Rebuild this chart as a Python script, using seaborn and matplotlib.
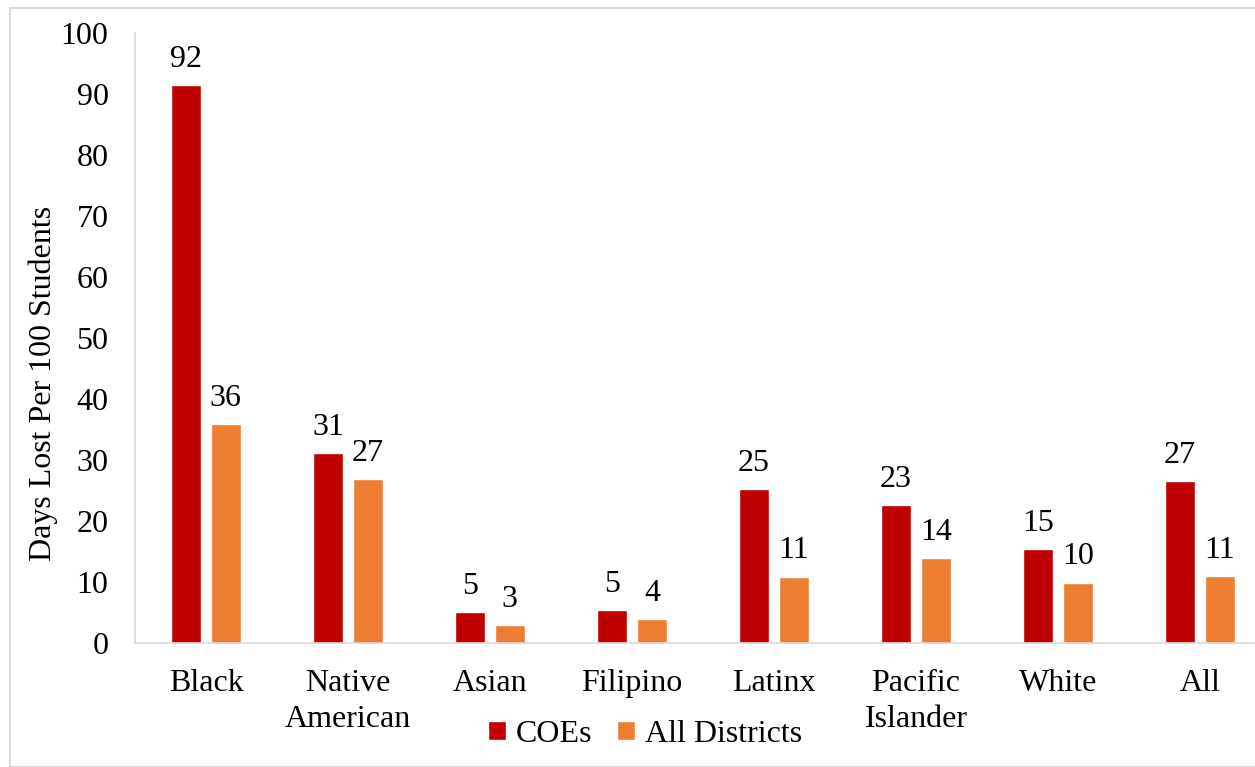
import pandas as pd
import matplotlib
matplotlib.use("Agg")
import matplotlib.pyplot as plt
import seaborn as sns
from matplotlib.patches import Rectangle

# données
groupes = ["Black", "Native\nAmerican", "Asian", "Filipino", "Latinx",
           "Pacific\nIslander", "White", "All"]
coes = [91.5, 31.2, 5.1, 5.4, 25.3, 22.6, 15.4, 26.5]
all_districts = [35.9, 26.9, 3.0, 3.9, 10.9, 13.9, 9.9, 11.0]
series = ["COEs", "All Districts"]
couleurs = ["#C00000", "#ED7D31"]

df = pd.DataFrame({
    "groupe": groupes * 2,
    "serie": [series[0]] * len(groupes) + [series[1]] * len(groupes),
    "valeur": coes + all_districts,
})

sns.set_style("white")
plt.rcParams["font.family"] = ["Liberation Serif", "DejaVu Serif"]
plt.rcParams["text.color"] = "black"
plt.rcParams["xtick.color"] = "black"
plt.rcParams["ytick.color"] = "black"
plt.rcParams["axes.labelcolor"] = "black"

taille = 23

fig = plt.figure(figsize=(12.55, 7.67), dpi=100)
ax = fig.add_axes([135 / 1255, 124 / 767, 1136 / 1255, 610 / 767])

sns.barplot(data=df, x="groupe", y="valeur", hue="serie", palette=couleurs,
            width=0.56, gap=0.25, saturation=1, ax=ax)

for cont in ax.containers:
    ax.bar_label(cont, labels=[str(int(v + 0.5)) for v in cont.datavalues],
                 padding=8, fontsize=taille)

ax.set_xlim(-0.5, 7.5)
ax.set_ylim(0, 100)
ax.set_yticks(range(0, 101, 10))
ax.tick_params(axis="y", labelsize=taille, length=0, pad=19)
ax.tick_params(axis="x", labelsize=taille, length=0, pad=19)
for lab in ax.get_xticklabels():
    lab.set_linespacing(1.28)
ax.set_xlabel("")
ax.set_ylabel("Days Lost Per 100 Students", fontsize=taille)
ax.yaxis.set_label_coords(-0.068, 0.425)

for s in ["top", "right"]:
    ax.spines[s].set_visible(False)
for s in ["left", "bottom"]:
    ax.spines[s].set_color("#d9d9d9")
    ax.spines[s].set_linewidth(1.2)

leg = ax.legend(loc="center", bbox_to_anchor=(645 / 1255, 33 / 767),
                bbox_transform=fig.transFigure, ncol=2, frameon=False,
                fontsize=taille, handlelength=0.55, handleheight=0.55,
                handletextpad=0.3, columnspacing=0.8)

# cadre du graphique
fig.patches.append(Rectangle((10 / 1255, 0), 1.1, 759 / 767,
                             transform=fig.transFigure, fill=False,
                             edgecolor="#d9d9d9", linewidth=1.5))

fig.savefig("out.png", dpi=100)
